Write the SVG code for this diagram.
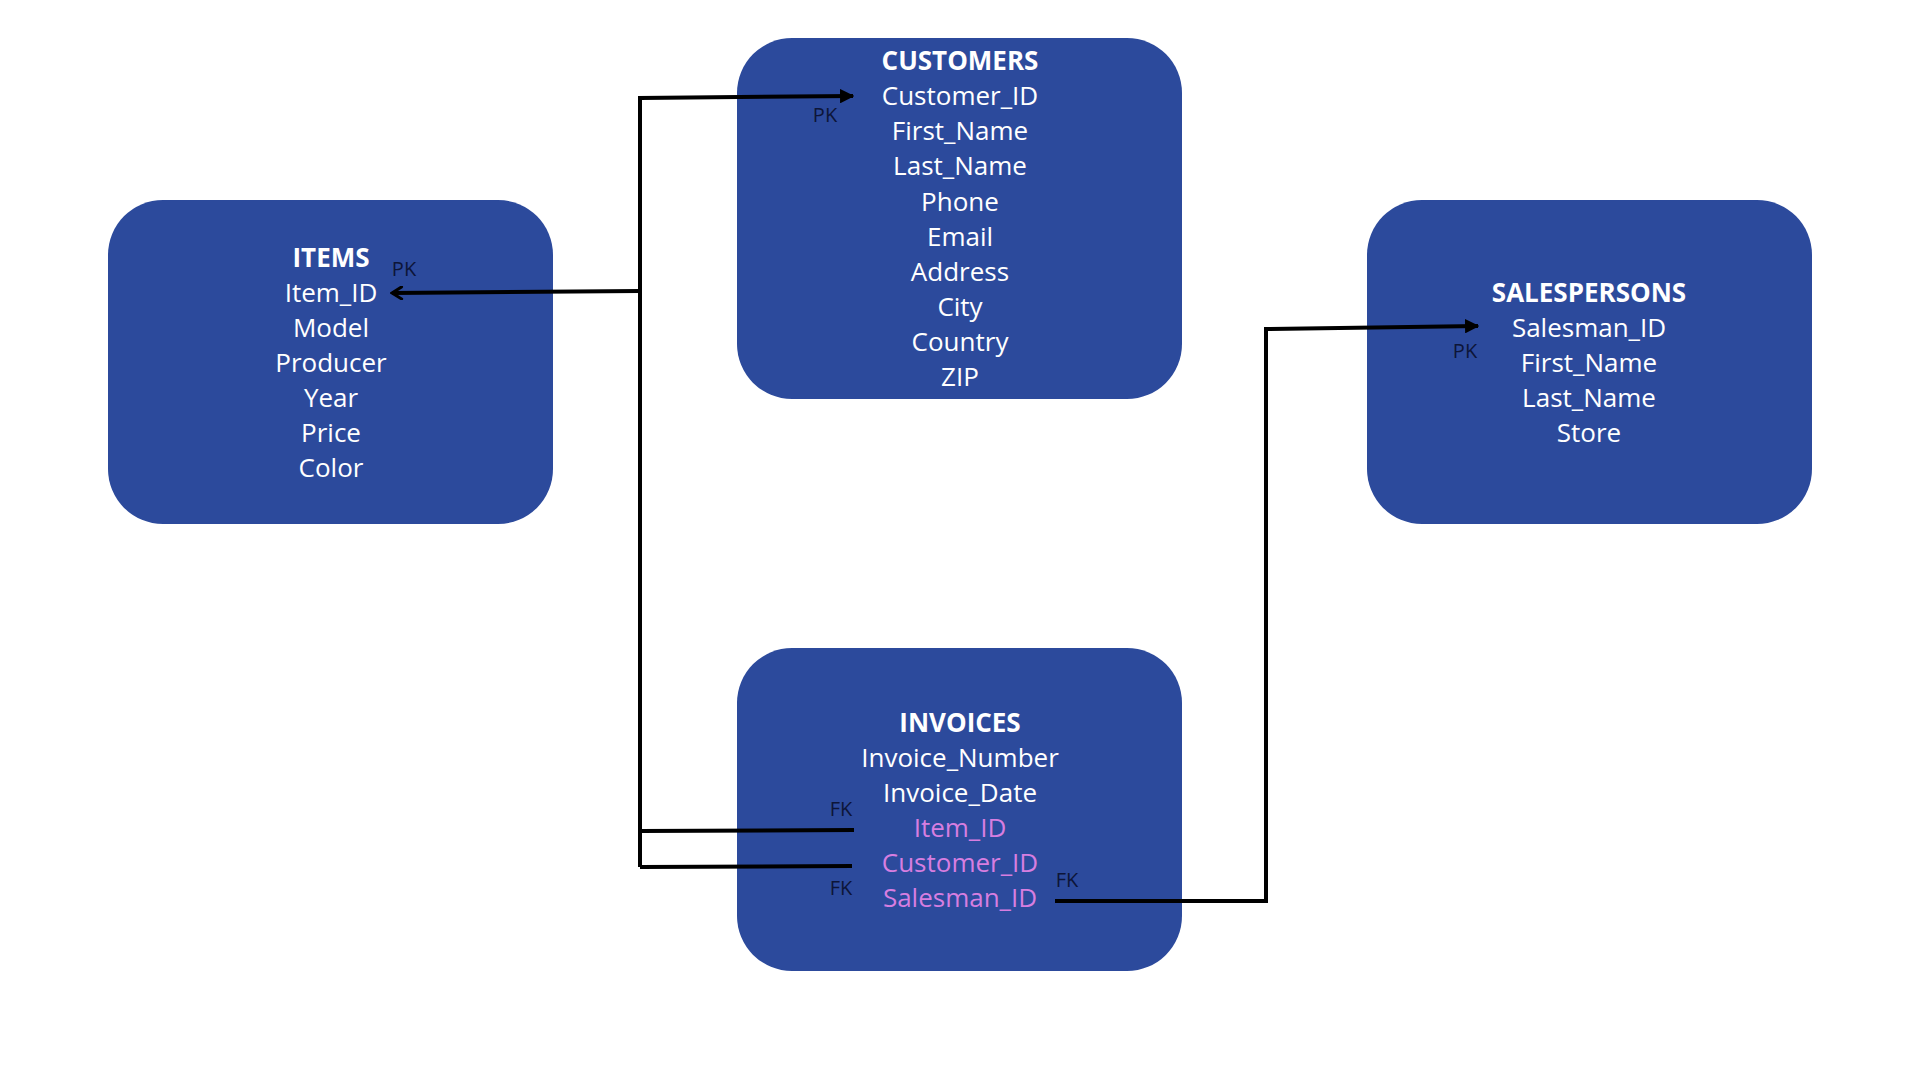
<svg xmlns="http://www.w3.org/2000/svg" width="1920" height="1080" viewBox="0 0 1920 1080">
<style>
.box{fill:#2c4a9c}
.t{font-family:"Open Sans","Noto Sans","Liberation Sans",sans-serif;font-size:26px;fill:#ffffff;text-anchor:middle}
.h{font-weight:bold}
.fk{fill:#d77ee0}
.k{font-family:"Open Sans","Noto Sans","Liberation Sans",sans-serif;font-size:20px;fill:#0d1538;text-anchor:middle}
.c{fill:none;stroke:#000000;stroke-width:4;stroke-linejoin:miter}
</style>
<defs>
<marker id="tri" viewBox="0 0 10 10" refX="9" refY="5" markerWidth="3.6" markerHeight="3.6" orient="auto" markerUnits="strokeWidth">
<path d="M0,0 L10,5 L0,10 Z" fill="#000"/>
</marker>
<marker id="chev" viewBox="0 0 12 12" refX="10" refY="6" markerWidth="3.6" markerHeight="3.6" orient="auto" markerUnits="strokeWidth">
<path d="M2,1 L10,6 L2,11" fill="none" stroke="#000" stroke-width="2.5" stroke-linecap="round"/>
</marker>
</defs>
<rect width="1920" height="1080" fill="#ffffff"/>

<g id="items">
<rect class="box" x="108" y="200" width="445" height="324" rx="55"/>
<text class="t h" x="331" y="267">ITEMS</text>
<text class="t" x="331" y="302">Item_ID</text>
<text class="t" x="331" y="337">Model</text>
<text class="t" x="331" y="372">Producer</text>
<text class="t" x="331" y="407">Year</text>
<text class="t" x="331" y="442">Price</text>
<text class="t" x="331" y="477">Color</text>
</g>

<g id="customers">
<rect class="box" x="737" y="38" width="445" height="361" rx="55"/>
<text class="t h" x="960" y="70">CUSTOMERS</text>
<text class="t" x="960" y="105">Customer_ID</text>
<text class="t" x="960" y="140">First_Name</text>
<text class="t" x="960" y="175">Last_Name</text>
<text class="t" x="960" y="211">Phone</text>
<text class="t" x="960" y="246">Email</text>
<text class="t" x="960" y="281">Address</text>
<text class="t" x="960" y="316">City</text>
<text class="t" x="960" y="351">Country</text>
<text class="t" x="960" y="386">ZIP</text>
</g>

<g id="salespersons">
<rect class="box" x="1367" y="200" width="445" height="324" rx="55"/>
<text class="t h" x="1589" y="302">SALESPERSONS</text>
<text class="t" x="1589" y="337">Salesman_ID</text>
<text class="t" x="1589" y="372">First_Name</text>
<text class="t" x="1589" y="407">Last_Name</text>
<text class="t" x="1589" y="442">Store</text>
</g>

<g id="invoices">
<rect class="box" x="737" y="648" width="445" height="323" rx="55"/>
<text class="t h" x="960" y="732">INVOICES</text>
<text class="t" x="960" y="767">Invoice_Number</text>
<text class="t" x="960" y="802">Invoice_Date</text>
<text class="t fk" x="960" y="837">Item_ID</text>
<text class="t fk" x="960" y="872">Customer_ID</text>
<text class="t fk" x="960" y="907">Salesman_ID</text>
</g>

<g id="connectors">
<path class="c" d="M640,867 L640,98 L853,96" marker-end="url(#tri)"/>
<path class="c" d="M640,291 L392,293" marker-end="url(#chev)"/>
<path class="c" d="M640,831 L854,830"/>
<path class="c" d="M640,867 L852,866"/>
<path class="c" d="M1055,901 L1266,901 L1266,329 L1478,326" marker-end="url(#tri)"/>
</g>

<g id="labels">
<text class="k" x="825" y="122">PK</text>
<text class="k" x="404" y="276">PK</text>
<text class="k" x="1465" y="358">PK</text>
<text class="k" x="841" y="816">FK</text>
<text class="k" x="841" y="895">FK</text>
<text class="k" x="1067" y="887">FK</text>
</g>
</svg>
